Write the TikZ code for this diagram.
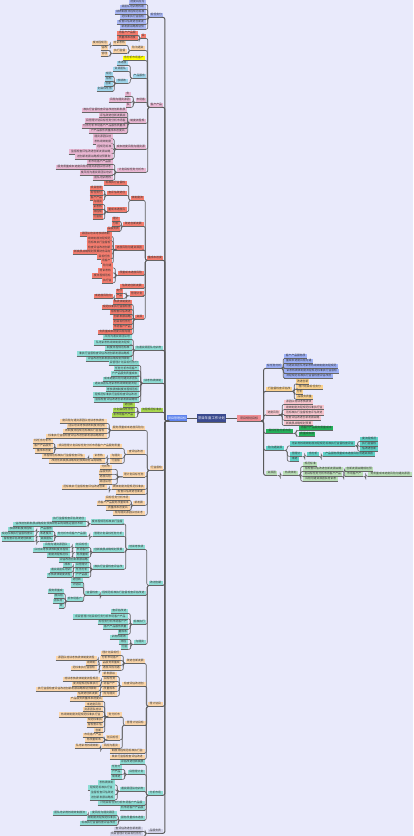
\documentclass[tikz,border=0pt]{standalone}
\usepackage{fontspec}
\newfontfamily\cjk{Noto Sans CJK SC}
\usetikzlibrary{calc}
\definecolor{bg}{HTML}{E9EAFB}
\definecolor{cnavy}{HTML}{3B4A8F}
\definecolor{cLM}{HTML}{5E83EE}
\definecolor{cRM}{HTML}{F08D93}
\definecolor{cblue}{HTML}{A9B7F5}
\definecolor{cred}{HTML}{F47C6E}
\definecolor{cpink}{HTML}{E9B6D2}
\definecolor{corg}{HTML}{FBD5A9}
\definecolor{cyel}{HTML}{FFFF00}
\definecolor{clb}{HTML}{9FD6EC}
\definecolor{cteal}{HTML}{8EDDD5}
\definecolor{cgrn}{HTML}{A9D94E}
\definecolor{clav}{HTML}{D3D3EA}
\definecolor{rblue}{HTML}{9DB0F6}
\definecolor{rorg}{HTML}{FBD28F}
\definecolor{rpink}{HTML}{F8C6CE}
\definecolor{rdg}{HTML}{23B25B}
\definecolor{rteal}{HTML}{5ECFC5}
\definecolor{rlg}{HTML}{B9DEB6}
\newcount\tkc \newcount\tkskip \newcount\nodeidx
\def\TKend{\TKend}
\def\TK#1{\ifx#1\TKend\else\ifnum\tkskip>0 \global\advance\tkskip-1 \else\ifnum\tkc>0 #1\global\advance\tkc-1 \fi\fi\expandafter\TK\fi}
\def\pool{项目管理计划目标任务分析市场客户产品服务质量成本进度风险沟通资源团队培训考核绩效制度流程规范标准执行监督检查评估改进创新发展战略规划预算财务采购销售运营技术研发设计生产物流仓储安全环境文化品牌宣传推广渠道合作伙伴}
\def\ftxt#1{\pgfmathtruncatemacro\tkn{max(1,(#1-1)/2.9)}\global\tkc=\tkn\relax\global\advance\nodeidx1\relax\pgfmathtruncatemacro\tks{mod(\nodeidx*7,60)}\global\tkskip=\tks\relax\expandafter\TK\pool\TKend}
\tikzset{
  ul/.style={draw=black!60,line width=.6pt},
  cn/.style={draw=black!62,line width=.65pt,rounded corners=2pt},
  cnmain/.style={cn,line width=.95pt,draw=black!65},
  bx/.style={fill=#1,inner sep=0pt,minimum height=4.3pt,text height=2.2pt,text depth=.5pt,
    font=\cjk\fontsize{2.8}{3}\selectfont,text=black!80,
    append after command={(\tikzlastnode.south west) edge[ul] (\tikzlastnode.south east)}},
  mainbox/.style={fill=#1,inner sep=0pt,font=\cjk\fontsize{3}{3.5}\selectfont,
    append after command={(\tikzlastnode.south west) edge[ul] (\tikzlastnode.south east)}},
}
\newcommand\mkL[5]{\node[bx=#5,minimum width=#4pt,anchor=east] (#1) at (#2,#3) {\ftxt{#4}};}
\newcommand\mkR[5]{\node[bx=#5,minimum width=#4pt,anchor=west] (#1) at (#2,#3) {\ftxt{#4}};}
\newcommand\lnL[2]{\draw[cn] (#1.south west) -- ($(#1.south west)!.5!(#1.south west -| #2.south east)$) |- (#2.south east);}
\newcommand\lnR[2]{\draw[cn] (#1.south east) -- ($(#1.south east)!.5!(#1.south east -| #2.south west)$) |- (#2.south west);}
\newcommand\kidsL[4]{\foreach \yy/\ww [count=\ii] in {#4}{\mkL{#1x\ii}{#2}{\yy}{\ww}{#3}\lnL{#1}{#1x\ii}}}
\newcommand\kidsR[4]{\foreach \yy/\ww [count=\ii] in {#4}{\mkR{#1x\ii}{#2}{\yy}{\ww}{#3}\lnR{#1}{#1x\ii}}}
\newcommand\chL[6]{\mkL{#2}{#3}{#4}{#5}{#6}\lnL{#1}{#2}}
\newcommand\chR[6]{\mkR{#2}{#3}{#4}{#5}{#6}\lnR{#1}{#2}}
\newcommand\spL[6]{\mkL{#2}{#3}{#4}{#5}{#6}\draw[cnmain] (#1.south west) -- ($(#1.south west)!.5!(#1.south west -| #2.south east)$) |- (#2.south east);}
\newcommand\spR[6]{\mkR{#2}{#3}{#4}{#5}{#6}\draw[cnmain] (#1.south east) -- ($(#1.south east)!.5!(#1.south east -| #2.south west)$) |- (#2.south west);}
\begin{document}
\begin{tikzpicture}[x=1pt,y=-1pt]
\fill[bg] (0,0) rectangle (413,836);
\useasboundingbox (0,0) rectangle (413,836);
% root and main branches
\node[mainbox=cnavy,text=white,minimum width=29pt,minimum height=8pt,font=\cjk\fontsize{3.4}{4}\selectfont] (root) at (211.5,418) {项目年度工作计划};
\node[mainbox=cLM,text=white,minimum width=20pt,minimum height=5.5pt] (LM) at (177,418) {项目管理目标};
\node[mainbox=cRM,text=black!80,minimum width=24pt,minimum height=5.5pt] (RM) at (249,418) {项目规划目标};
\draw[cnmain] (root.west) -- (LM.east);
\draw[cnmain] (root.east) -- (RM.west);
% level 1 left
\spL{LM}{A}{163}{15}{13}{cblue}
\spL{LM}{B}{163}{105}{13}{cpink}
\spL{LM}{C}{163}{258}{16}{cred}
\spL{LM}{D}{163}{348}{28}{cteal}
\spL{LM}{E}{163}{381}{20}{cteal}
\spL{LM}{F}{163}{410}{22}{cgrn}
\spL{LM}{G}{163}{468}{13}{corg}
\spL{LM}{H}{163}{583}{14}{cteal}
\spL{LM}{I}{163}{704}{15}{corg}
\spL{LM}{J}{163}{793}{15}{cteal}
\spL{LM}{K}{163}{831}{15}{clav}
% A
\kidsL{A}{146}{cblue}{2/17,7/26,12/31,17/26,22/29,27/26}
% B
\chL{B}{Ba}{146}{36}{5}{cred}
\kidsL{Ba}{138}{cred}{33/21,38/21}
\chL{B}{Bb}{145}{48}{14}{corg}
\chL{Bb}{Bba}{126}{43}{13}{corg}
\chL{Bba}{Bbaa}{108}{43}{16}{corg}
\chL{Bb}{Bbb}{127}{51}{14}{corg}
\kidsL{Bbb}{108}{corg}{48/7,54/7}
\chL{B}{Bc}{145}{58}{22}{cyel}
\chL{B}{Bd}{146}{76}{13}{clb}
\chL{Bd}{Bda}{128}{63}{11}{clb}
\chL{Bd}{Bdb}{128}{69}{15}{clb}
\chL{Bd}{Bdc}{128}{81}{12}{clb}
\kidsL{Bdc}{113}{clb}{74/8,79/8,84/9,89/16}
\chL{B}{Be}{146}{100}{10}{cpink}
\kidsL{Be}{131}{cpink}{94/6,100/22,105/5}
\chL{B}{Bf}{146}{121}{17}{cpink}
\kidsL{Bf}{127}{cpink}{110/45,115.3/28,120.6/42,126/45,131/38}
\chL{B}{Bg}{146}{147}{30}{cpink}
\kidsL{Bg}{113}{cpink}{136.5/20,141.5/20,146.5/17,151.5/44,156.5/38}
\chL{B}{Bh}{146}{170}{29}{cpink}
\kidsL{Bh}{113}{cpink}{162/26,167/57,172.5/33,178/20}
% C
\chL{C}{Ca}{144}{198}{13}{cred}
\chL{Ca}{Caa}{127}{183}{23}{cred}
\chL{Ca}{Cab}{127}{193}{20}{cred}
\kidsL{Cab}{103}{cred}{188/13,193/13,198/13}
\chL{Ca}{Cac}{127}{209.5}{20}{cred}
\kidsL{Cac}{103}{cred}{202/10,207/10,212/10,217/10}
\chL{C}{Cb}{144}{224}{21}{cred}
\kidsL{Cb}{120}{cred}{219/8,224/8,229/13}
\chL{C}{Cc}{144}{247.5}{29}{cred}
\kidsL{Cc}{112}{cred}{234/32,238.5/25,243/25,247.5/25,252/39,256.5/15,261/11}
\chL{C}{Cd}{144}{273}{26}{cred}
\kidsL{Cd}{113}{cred}{265.5/11,270.5/15,275.5/21,280.5/11}
\chL{C}{Ce}{144}{286}{24}{cred}
\chL{C}{Cf}{144}{293.5}{14}{cred}
\chL{Cf}{Cfa}{123}{291}{7}{cred}
\chL{Cf}{Cfb}{123}{296}{7}{cred}
\chL{Cfb}{Cfba}{113}{296}{19}{cred}
\chL{C}{Cg}{144}{317}{9}{cred}
\kidsL{Cg}{132}{cred}{302/19,307/30,312/22,317/19,322/19,327/19,332/34}
% D E F
\kidsL{D}{132}{cteal}{337/29,342.5/38,348/27,353.5/55,359/46}
\kidsL{E}{139}{cteal}{363/30,368.3/25,373.5/28,378.8/36,384/46,389.3/33,394.5/46,399.8/45}
\kidsL{F}{135}{cgrn}{405/12,410/22,415/23}
% G
\chL{G}{Ga}{145}{428}{33}{corg}
\kidsL{Ga}{107}{corg}{421/47,426/40,431/44,436/61}
\chL{G}{Gb}{145}{452}{18}{corg}
\chL{Gb}{Gba}{122}{446}{65}{corg}
\kidsL{Gba}{53}{corg}{441/20,446/20,451/18}
\chL{Gb}{Gbb}{122}{456}{12}{corg}
\chL{Gbb}{Gbba}{105}{456}{12}{corg}
\chL{Gbba}{Gbbb}{85}{456}{43}{corg}
\chL{Gb}{Gbc}{122}{461}{12}{corg}
\chL{Gbc}{Gbca}{105}{461}{56}{corg}
\chL{G}{Gc}{145}{474.5}{22}{corg}
\kidsL{Gc}{112}{corg}{467/12,472/13,477/13,482/13}
\chL{G}{Gd}{145}{487}{33}{corg}
\chL{Gd}{Gda}{107}{487}{45}{corg}
\chL{G}{Ge}{145}{492}{29}{corg}
\chL{G}{Gf}{145}{503}{12}{corg}
\kidsL{Gf}{130}{corg}{498/25,503/33,508/24}
\chL{G}{Gg}{145}{513}{32}{corg}
% H
\chL{H}{Ha}{145}{547}{17}{cteal}
\chL{Ha}{Haa}{124}{521.5}{33}{cteal}
\kidsL{Haa}{86}{cteal}{519/34,524/73}
\chL{Ha}{Hab}{124}{534}{31}{cteal}
\chL{Hab}{Haba}{87}{534}{30}{cteal}
\chL{Haba}{Hb1}{53}{529}{13}{cteal}
\chL{Haba}{Hb2}{53}{534}{14}{cteal}
\chL{Haba}{Hb3}{53}{539}{13}{cteal}
\chL{Hb1}{Hb1a}{34}{529}{26}{cteal}
\chL{Hb2}{Hb2a}{34}{534}{33}{cteal}
\chL{Hb3}{Hb3a}{34}{539}{32}{cteal}
\chL{Ha}{Hac}{124}{550}{31}{cteal}
\chL{Hac}{Hc1}{89}{545}{14}{cteal}
\chL{Hac}{Hc2}{89}{550}{13}{cteal}
\chL{Hac}{Hc3}{89}{555}{13}{cteal}
\chL{Hc1}{Hc1a}{70}{545}{27}{cteal}
\chL{Hc2}{Hc2a}{70}{550}{37}{cteal}
\chL{Hc3}{Hc3a}{70}{555}{23}{cteal}
\chL{Ha}{Had}{124}{567}{31}{cteal}
\chL{Had}{Hd1}{89}{560}{30}{cteal}
\chL{Had}{Hd2}{89}{565}{14}{cteal}
\chL{Had}{Hd3}{89}{570}{14}{cteal}
\chL{Had}{Hd4}{89}{575}{14}{cteal}
\chL{Hd2}{Hd2a}{72}{565}{9}{cteal}
\chL{Hd3}{Hd3a}{72}{570}{22}{cteal}
\chL{Hd4}{Hd4a}{72}{575}{25}{cteal}
\chL{H}{Hb}{146}{593}{45}{cteal}
\chL{Hb}{Hba}{100}{593}{15}{cteal}
\chL{Hba}{Hbb1}{83}{580}{12}{cteal}
\chL{Hba}{Hbb2}{83}{585}{12}{cteal}
\chL{Hba}{Hbb3}{83}{599}{16}{cteal}
\kidsL{Hbb3}{64}{cteal}{591/16,596/10,601/11,606/5}
\chL{H}{Hc}{146}{622}{13}{cteal}
\kidsL{Hc}{128}{cteal}{611/17,616.5/55,622/30,627/25,632/10}
\chL{H}{Hd}{146}{642}{12}{cteal}
\kidsL{Hd}{128}{cteal}{637/18,642/9,647/7}
% I
\chL{I}{Ia}{145}{661}{19}{corg}
\chL{Ia}{Ia1}{121}{653}{20}{corg}
\chL{Ia}{Ia2}{121}{658}{21}{corg}
\chL{Ia}{Ia3}{121}{663}{19}{corg}
\chL{Ia}{Ia4}{121}{668}{19}{corg}
\chL{Ia2}{Ia2a}{97}{658}{41}{corg}
\chL{Ia3}{Ia3a}{97}{663}{11}{corg}
\chL{Ia4}{Ia4a}{97}{668}{26}{corg}
\chL{I}{Ib}{146}{684}{24}{corg}
\chL{Ib}{Ib1}{117}{674}{15}{corg}
\chL{Ib}{Ib2}{117}{679}{14}{corg}
\chL{Ib}{Ib3}{117}{684}{15}{corg}
\chL{Ib}{Ib4}{117}{689}{15}{corg}
\chL{Ib}{Ib5}{117}{694}{15}{corg}
\chL{Ib2}{Ib2a}{100}{679}{37}{corg}
\chL{Ib3}{Ib3a}{100}{684}{28}{corg}
\chL{Ib4}{Ib4a}{99}{689}{63}{corg}
\chL{Ib5}{Ib5a}{99}{694}{22}{corg}
\chL{I}{Ic}{146}{723}{21}{corg}
\chL{Ic}{Ica}{122}{714.6}{15}{corg}
\kidsL{Ica}{103}{corg}{699/33,704.2/18,709.4/20,714.6/44,719.8/16,725/16,730.2/9}
\chL{Ic}{Icb}{120}{737.5}{14}{corg}
\kidsL{Icb}{103}{corg}{735/20,740/18}
\chL{Ic}{Icc}{120}{746}{18}{corg}
\chL{Icc}{Icca}{100}{746}{25}{corg}
\chL{I}{Id}{145}{751}{35}{corg}
\chL{I}{Ie}{145}{757}{35}{corg}
% J
\chL{J}{Ja}{145}{762}{25}{cteal}
\chL{J}{Jb}{145}{772}{17}{cteal}
\kidsL{Jb}{122}{cteal}{767/11,772/11,777/11}
\chL{J}{Jc}{145}{789}{25}{cteal}
\kidsL{Jc}{115}{cteal}{782.5/17,787.5/27,792.5/25,797.5/25}
\chL{J}{Jd}{145}{803}{47}{cteal}
\chL{J}{Je}{145}{808}{25}{cteal}
\chL{J}{Jf}{145}{818}{25}{cteal}
\chL{Jf}{Jf1}{117}{813}{27}{cteal}
\chL{Jf1}{Jf1a}{87}{813}{34}{cteal}
\chL{Jf}{Jf2}{117}{818}{30}{cteal}
\chL{Jf}{Jf3}{117}{823}{37}{cteal}
% K
\kidsL{K}{143}{clav}{829/29,834/33}
% right side
\spR{RM}{Ra}{266}{366}{16}{rblue}
\kidsR{Ra}{284}{rblue}{356/23,361/29,366/54,371/55,376/49}
\spR{RM}{Rb}{266}{389}{26}{rorg}
\kidsR{Rb}{296}{rorg}{381.5/13,386.7/27,391.9/7,397/17}
\spR{RM}{Rc}{266}{412.6}{14}{rpink}
\kidsR{Rc}{284}{rpink}{402/29,407.3/40,412.6/40,417.9/37,423.2/29}
\spR{RM}{Rd}{266}{431}{27}{rdg}
\kidsR{Rd}{299}{rdg}{428/34,434/16}
\spR{RM}{Re}{266}{448}{18}{rteal}
\chR{Re}{Rea}{290}{443.5}{65}{rteal}
\kidsR{Rea}{360}{rteal}{439/18,444/18,449/18}
\chR{Re}{Reb}{290}{454}{12}{rteal}
\chR{Reb}{Rebb}{307}{454}{12}{rteal}
\chR{Rebb}{Rebc}{323}{454}{52}{rteal}
\chR{Re}{Rec}{290}{459}{9}{rteal}
\spR{RM}{Rf}{266}{473}{11}{rlg}
\chR{Rf}{Rfa}{283}{473}{15}{rlg}
\chR{Rfa}{Rf1}{303}{464}{14}{rlg}
\chR{Rfa}{Rf2}{303}{469}{40}{rlg}
\chR{Rf2}{Rf2a}{345}{469}{28}{rlg}
\chR{Rfa}{Rf3}{303}{474}{39}{rlg}
\chR{Rf3}{Rf3a}{345}{474}{18}{rlg}
\chR{Rf3a}{Rf3b}{368}{474}{44}{rlg}
\chR{Rfa}{Rf4}{303}{479}{35}{rlg}
\end{tikzpicture}
\end{document}
